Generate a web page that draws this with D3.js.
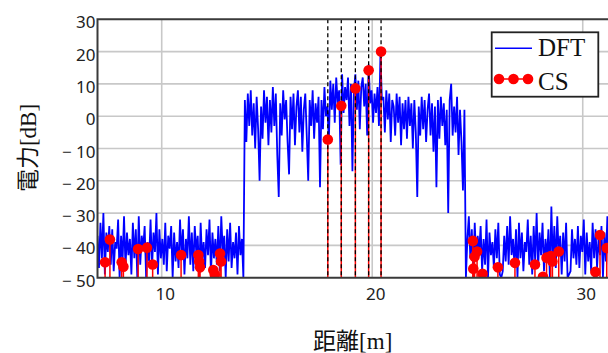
<!DOCTYPE html>
<html>
<head>
<meta charset="utf-8">
<script src="https://cdn.jsdelivr.net/npm/d3@7"></script>
<style>
    body { margin: 0; background: #fff; }
    svg { display: block; }
</style>
</head>
<body>
<svg id="chart" width="608" height="353"></svg>
<script>
// DFT trace, sampled on a uniform distance grid
const dftStart = 6.95;
const dftStep = 0.07;

// noise floor before the target zone
const dftNear = [
    -37, -47, -33, -44, -30, -49, -36, -42, -34, -46,
    -35, -48, -39, -41, -32, -50, -37, -45, -31, -47,
    -36, -43, -38, -49, -33, -44, -35, -50, -31, -46,
    -37, -41, -34, -50, -39, -45, -32, -47, -36, -42,
    -30, -49, -35, -44, -38, -46, -33, -48, -37, -41,
    -34, -50, -36, -45, -39, -47, -32, -43, -35, -49,
    -38, -44, -31, -46, -36, -48, -34, -42, -37, -50,
    -33, -45, -39, -47, -35, -43, -32, -49, -36, -44,
    -38, -46, -34, -48, -31, -42, -37, -50, -35, -45,
    -33, -47, -39, -44, -36, -49, -34, -43, -38, -50
];

// the target zone
const dftTarget = [
    5, -8, 7, -3, 8, -6, 4, -10, 6, -4,
    -20, 3, -7, 8, -2, 6, -9, 5, -5, 9,
    -3, 7, -12, -25, 4, -6, 8, -1, 5, -8,
    -18, 6, -4, 7, -9, 3, 8, -5, 6, -11,
    2, 7, -6, -20, 5, -3, 8, -7, 4, -2,
    6, -22, 5, -4, 9, 0, 3, -8, 11, 2,
    10, -2, 12, 4, 8, -15, 13, 1, 9, 5,
    12, -3, 10, -17, 8, 13, 2, 11, -4, 9,
    12, 3, 10, -6, 16, 4, 8, -2, 7, 1,
    9, -3, 19, 5, 6, -5, 8, -1, 7, -8,
    5, 3, -6, 7, -2, 6, -9, 4, -4, 5,
    -7, 6, -3, 4, -10, 5, -5, -25, 3, -6,
    6, -4, 5, -8, 2, 7, -6, 4, -11, 3,
    -22, 5, -7, 6, -3, 4, -9, 2, -30, 5,
    10, -6, 3, -5, 6, -12, 2, -8, -23, 2
];

// noise floor after the target zone
const dftFar = [
    -50, -38, -31, -44, -35, -49, -33, -45, -37, -42,
    -34, -48, -38, -46, -32, -50, -36, -43, -39, -47,
    -35, -44, -33, -49, -50, -48, -37, -45, -34, -46,
    -31, -43, -38, -47, -35, -50, -33, -44, -36, -48,
    -39, -42, -32, -46, -37, -49, -34, -45, -30, -47,
    -36, -43, -33, -48, -38, -44, -35, -50, -28, -46,
    -34, -47, -31, -43, -37, -49, -36, -45, -33, -50,
    -49, -48, -35, -44, -38, -46, -34, -47, -37, -42,
    -32, -49, -36, -45, -39, -48, -33, -44, -35, -47,
    -38, -43, -34, -50, -36, -45, -31, -46
];

// CS estimates at the targets (also the dashed markers)
const targetDist = [17.89, 18.53, 19.20, 19.83, 20.42];
const targetDb = [-7.2, 3.2, 8.6, 14.2, 20.0];

// CS estimates in the noise floor
const csNoiseDist = [
    7.31, 7.54, 8.10, 8.18, 8.88, 9.30, 9.57, 10.92, 11.74, 11.78, 11.82,
    12.45, 12.52, 12.77, 12.82,
    24.78, 24.98, 24.86, 24.80, 25.24, 25.97, 26.78, 27.73, 28.11, 28.28,
    28.48, 28.56, 28.86, 30.60, 30.82, 31.14
];
const csNoiseDb = [
    -45.2, -38.2, -45.2, -46.6, -41.1, -40.7, -45.9, -43.0, -43.0, -45.0, -46.8,
    -47.6, -49.0, -42.5, -45.0,
    -38.6, -41.9, -43.5, -47.2, -48.8, -46.8, -45.4, -45.9, -49.7, -43.8,
    -43.3, -45.0, -41.9, -48.2, -36.8, -40.8
];

const xTicks = [10, 20, 30];
const yTicks = [-50, -40, -30, -20, -10, 0, 10, 20, 30];

const dft = dftNear.concat(dftTarget, dftFar);
const cs = csNoiseDist.map((d, i) => ({ dist: d, db: csNoiseDb[i] }))
    .concat(targetDist.map((d, i) => ({ dist: d, db: targetDb[i] })));

const svg = d3.select("#chart");
const plotL = 97.5, plotR = 608, plotT = 19.3, plotB = 277.7;

const x = d3.scaleLinear().domain([6.95, 31.2]).range([plotL, plotR]);
const y = d3.scaleLinear().domain([-50, 30]).range([plotB, plotT]);

const tickFont = "'Noto Sans', 'DejaVu Sans', sans-serif";
const labelFont = "'Liberation Serif', 'Noto Sans CJK JP', serif";
const fmt = d => d < 0 ? "\u2212 " + Math.abs(d) : String(d);

svg.append("defs").append("clipPath")
    .attr("id", "clip")
    .append("rect")
    .attr("x", plotL)
    .attr("y", plotT)
    .attr("width", plotR - plotL + 5)
    .attr("height", plotB - plotT);

// grid
const grid = svg.append("g").attr("stroke", "#c8c8c8").attr("stroke-width", 1.6);
grid.selectAll(".gx").data(xTicks).join("line")
    .attr("x1", d => x(d)).attr("x2", d => x(d))
    .attr("y1", plotT).attr("y2", plotB);
grid.selectAll(".gy").data(yTicks.filter(d => d > -50 && d < 30)).join("line")
    .attr("x1", plotL).attr("x2", plotR + 5)
    .attr("y1", d => y(d)).attr("y2", d => y(d));

const plot = svg.append("g").attr("clip-path", "url(#clip)");

// DFT trace
const line = d3.line()
    .x((d, i) => x(dftStart + i * dftStep))
    .y(d => y(d));

plot.append("path")
    .datum(dft)
    .attr("fill", "none")
    .attr("stroke", "#0000ff")
    .attr("stroke-width", 1.8)
    .attr("d", line);

// CS stems
plot.selectAll(".stem").data(cs).join("line")
    .attr("x1", d => x(d.dist)).attr("x2", d => x(d.dist))
    .attr("y1", y(-50)).attr("y2", d => y(d.db))
    .attr("stroke", "#ff0000")
    .attr("stroke-width", 1.5);

// dashed target markers
plot.selectAll(".mark").data(targetDist).join("line")
    .attr("x1", d => x(d)).attr("x2", d => x(d))
    .attr("y1", plotT).attr("y2", plotB)
    .attr("stroke", "#000")
    .attr("stroke-width", 1.3)
    .attr("stroke-dasharray", "4,3");

// CS dots
plot.selectAll(".dot").data(cs).join("circle")
    .attr("cx", d => x(d.dist))
    .attr("cy", d => y(d.db))
    .attr("r", 5.3)
    .attr("fill", "#ff0000");

// frame
svg.append("path")
    .attr("d", `M${plotR + 5},${plotT}H${plotL}V${plotB}H${plotR + 5}`)
    .attr("fill", "none")
    .attr("stroke", "#3a3a3a")
    .attr("stroke-width", 2);

// axes (labels only)
const yAxis = svg.append("g")
    .attr("transform", `translate(${plotL},0)`)
    .call(d3.axisLeft(y).tickValues(yTicks).tickSize(0).tickPadding(2).tickFormat(fmt));
yAxis.select(".domain").remove();
yAxis.selectAll("text")
    .attr("dy", "0.5em")
    .attr("fill", "#222")
    .style("font", `17px ${tickFont}`);

const xAxis = svg.append("g")
    .attr("transform", `translate(0,${plotB})`)
    .call(d3.axisBottom(x).tickValues(xTicks).tickSize(0).tickPadding(10).tickFormat(fmt));
xAxis.select(".domain").remove();
xAxis.selectAll("text")
    .attr("dx", 3)
    .attr("fill", "#222")
    .style("font", `17px ${tickFont}`);

svg.append("text")
    .attr("transform", "translate(36,148) rotate(-90)")
    .attr("text-anchor", "middle")
    .attr("fill", "#111")
    .style("font", `23px ${labelFont}`)
    .text("電力[dB]");

svg.append("text")
    .attr("x", 352.7)
    .attr("y", 349)
    .attr("text-anchor", "middle")
    .attr("fill", "#111")
    .style("font", `23px ${labelFont}`)
    .text("距離[m]");

// legend
const legend = svg.append("g");
legend.append("rect")
    .attr("x", 491.7).attr("y", 32.3)
    .attr("width", 106.6).attr("height", 64.4)
    .attr("fill", "#fff")
    .attr("stroke", "#222")
    .attr("stroke-width", 1.8);
legend.append("line")
    .attr("x1", 495).attr("x2", 532)
    .attr("y1", 48.3).attr("y2", 48.3)
    .attr("stroke", "#0000ff").attr("stroke-width", 1.5);
legend.append("line")
    .attr("x1", 499).attr("x2", 528)
    .attr("y1", 79).attr("y2", 79)
    .attr("stroke", "#ff0000").attr("stroke-width", 1.5);
legend.selectAll(".ld").data([499, 513.5, 528]).join("circle")
    .attr("cx", d => d).attr("cy", 79).attr("r", 5.3)
    .attr("fill", "#ff0000");
legend.selectAll(".lt").data(["DFT", "CS"]).join("text")
    .attr("x", 538)
    .attr("y", (d, i) => 55.5 + i * 34)
    .attr("fill", "#111")
    .style("font", `25px ${labelFont}`)
    .text(d => d);
</script>
</body>
</html>
